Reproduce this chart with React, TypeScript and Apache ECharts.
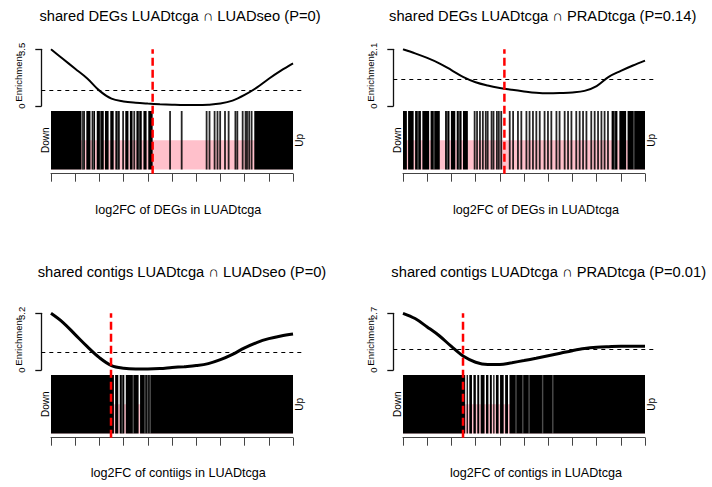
import React, { useEffect, useRef } from "react";
import * as echarts from "echarts";

type Span = [number, number];

// ---------- data ----------
const panelTitles = [
  "shared DEGs LUADtcga \u2229 LUADseo (P=0)",
  "shared DEGs LUADtcga \u2229 PRADtcga (P=0.14)",
  "shared contigs LUADtcga \u2229 LUADseo (P=0)",
  "shared contigs LUADtcga \u2229 PRADtcga (P=0.01)",
];
const axisTitles = [
  "log2FC of DEGs in LUADtcga",
  "log2FC of DEGs in LUADtcga",
  "log2FC of contiigs in LUADtcga",
  "log2FC of contigs in LUADtcga",
];
const stripLabels = ["Down", "Up"];
const enrichmentName = "Enrichment";
const enrichmentMax = [3.5, 2.1, 3.2, 2.7];
const expectedEnrichment = 1;
// rank position (0-100) where log2FC crosses zero
const zeroPosition = [42.0, 41.9, 24.8, 24.8];

// running enrichment (worm) sampled along the ranked log2FC
const rankSteps = [0, 5, 10, 15, 20, 25, 30, 35, 40, 45, 50, 55, 60, 65, 70, 75, 80, 85, 90, 95, 100];
const wormDegSeo = [3.5, 2.9, 2.3, 1.7, 0.95, 0.45, 0.28, 0.2, 0.15, 0.11, 0.08, 0.06, 0.06, 0.08, 0.15, 0.33, 0.68, 1.13, 1.68, 2.18, 2.63];
const wormDegPrad = [2.1, 1.95, 1.78, 1.58, 1.33, 1.07, 0.88, 0.76, 0.67, 0.6, 0.54, 0.49, 0.47, 0.48, 0.5, 0.56, 0.74, 1.08, 1.3, 1.5, 1.68];
const wormContigSeo = [3.2, 2.68, 2.0, 1.32, 0.7, 0.25, 0.1, 0.06, 0.06, 0.08, 0.14, 0.19, 0.25, 0.36, 0.58, 0.88, 1.25, 1.55, 1.77, 1.92, 2.03];
const wormContigPrad = [2.7, 2.45, 2.05, 1.63, 1.12, 0.65, 0.37, 0.26, 0.26, 0.35, 0.45, 0.56, 0.68, 0.8, 0.92, 1.02, 1.08, 1.11, 1.13, 1.13, 1.13];

// barcode: runs of densely packed genes and isolated genes (rank positions 0-100)
const denseDegSeo: Span[] = [
  [0, 12.4], [12.6, 14.0], [14.6, 16.3], [16.8, 18.2], [18.9, 21.8], [22.3, 23.8], [24.5, 25.9],
  [26.6, 28.4], [30.7, 32.0], [32.6, 33.7], [35.3, 37.5], [38.2, 39.5], [40.2, 42.0], [84.0, 100],
];
const singleDegSeo = [29.8, 34.4, 49.2, 54.0, 64.3, 65.5, 67.6, 68.8, 69.9, 71.9, 73.4, 76.2, 77.0, 79.2, 80.4, 81.0, 81.9, 82.9];
const sparseDegSeo = [13.2, 17.5, 20.4, 27.5, 36.4];

const denseDegPrad: Span[] = [
  [0, 1.6], [2.1, 4.4], [5.0, 7.4], [8.0, 10.8], [11.4, 15.2], [17.4, 19.2], [19.8, 21.6],
  [22.2, 24.2], [24.8, 26.8], [86.2, 88.6], [89.4, 92.2], [92.8, 100],
];
const singleDegPrad = [
  29.6, 30.6, 31.8, 33.0, 34.2, 35.0, 36.6, 37.4, 38.8, 39.6, 40.6, 44.1, 45.5, 47.5, 48.9, 51.0,
  52.3, 53.7, 55.1, 56.5, 58.5, 59.9, 61.3, 63.4, 64.7, 66.8, 68.2, 69.6, 71.6, 73.0, 74.4, 75.8,
  77.8, 79.2, 80.6, 82.0, 83.3, 84.7,
];
const sparseDegPrad = [6.2, 12.8, 18.3, 23.2, 87.4, 95.4];

const denseContigSeo: Span[] = [[0, 26.0], [26.5, 27.8], [28.4, 30.3], [30.9, 36.2], [36.8, 100]];
const singleContigSeo: number[] = [];
const sparseContigSeo = [29.4, 34.0, 38.8, 39.9, 41.0];

const denseContigPrad: Span[] = [
  [0, 25.7], [26.3, 26.8], [27.4, 28.5], [29.1, 30.1], [30.7, 31.5], [32.1, 33.7], [34.3, 35.3],
  [35.9, 36.7], [37.3, 37.8], [38.4, 39.5], [40.1, 41.6], [42.2, 43.4], [44.0, 100],
];
const singleContigPrad: number[] = [];
const sparseContigPrad = [46.7, 49.5, 52.1, 57.7, 61.9];

const panels = [
  { worm: wormDegSeo, dense: denseDegSeo, single: singleDegSeo, sparse: sparseDegSeo, thick: false },
  { worm: wormDegPrad, dense: denseDegPrad, single: singleDegPrad, sparse: sparseDegPrad, thick: false },
  { worm: wormContigSeo, dense: denseContigSeo, single: singleContigSeo, sparse: sparseContigSeo, thick: true },
  { worm: wormContigPrad, dense: denseContigPrad, single: singleContigPrad, sparse: sparseContigPrad, thick: true },
];

// ---------- layout ----------
const FONT = "'Liberation Sans', Arial, Helvetica, sans-serif";
const STRIP_W = 242;
const PAD = 9.7; // R-style 4% extension of the enrichment plot region
const ENRICH_H = 56.7;
const STRIP_H = 58.5;
const AXIS_OFFSET = 4.2;
const colX = [51, 403];
const rowY = [
  { title: 16, enrich: 49.3, strip: 111, xlab: 210 },
  { title: 272, enrich: 313.3, strip: 375, xlab: 473 },
];
const titleCX = [180, 542.7, 182, 548.7];
const xlabCX = [178.3, 536, 178.3, 536];

function buildOption() {
  const grid: any[] = [];
  const xAxis: any[] = [];
  const yAxis: any[] = [];
  const series: any[] = [];
  const graphic: any[] = [];

  panels.forEach((p, i) => {
    const col = i % 2;
    const row = Math.floor(i / 2);
    const x0 = colX[col];
    const r = rowY[row];
    const g0 = grid.length;
    const xa = xAxis.length;
    const ya = yAxis.length;

    grid.push({ left: x0 - PAD, top: r.enrich, width: STRIP_W + 2 * PAD, height: ENRICH_H });
    grid.push({ left: x0, top: r.strip, width: STRIP_W, height: STRIP_H });
    grid.push({ left: x0, top: r.enrich, width: STRIP_W, height: r.strip + STRIP_H + AXIS_OFFSET - r.enrich });

    xAxis.push({ gridIndex: g0, type: "value", min: -4, max: 104, show: false });
    xAxis.push({
      gridIndex: g0 + 1, type: "value", min: 0, max: 100, interval: 10, position: "bottom",
      offset: AXIS_OFFSET,
      axisLine: { show: true, onZero: false, lineStyle: { color: "#444", width: 1 } },
      axisTick: { show: true, length: 8, lineStyle: { color: "#444", width: 1 } },
      axisLabel: { show: false }, splitLine: { show: false },
    });
    xAxis.push({ gridIndex: g0 + 2, type: "value", min: 0, max: 100, show: false });

    const nameStyle = { fontSize: 9.5, color: "#000", fontFamily: FONT };
    yAxis.push({
      gridIndex: g0, type: "value", min: 0, max: enrichmentMax[i], interval: enrichmentMax[i],
      axisLine: { show: true, onZero: false, lineStyle: { color: "#111", width: 1.3 } },
      axisTick: { show: true, length: 6, lineStyle: { color: "#111", width: 1.3 } },
      axisLabel: { rotate: 90, margin: 15, fontSize: 9.5, color: "#000", fontFamily: FONT },
      splitLine: { show: false },
      name: enrichmentName, nameLocation: "middle", nameRotate: 90, nameGap: 18, nameMoveOverlap: false,
      nameTextStyle: nameStyle,
    });
    const stripName = { fontSize: 10, color: "#000", fontFamily: FONT };
    yAxis.push({
      gridIndex: g0 + 1, type: "value", min: 0, max: 2, position: "left",
      axisLine: { show: false }, axisTick: { show: false }, axisLabel: { show: false }, splitLine: { show: false },
      name: stripLabels[0], nameLocation: "middle", nameRotate: 90, nameGap: 1, nameMoveOverlap: false,
      nameTextStyle: stripName,
    });
    yAxis.push({
      gridIndex: g0 + 1, type: "value", min: 0, max: 2, position: "right",
      axisLine: { show: false }, axisTick: { show: false }, axisLabel: { show: false }, splitLine: { show: false },
      name: stripLabels[1], nameLocation: "middle", nameRotate: 90, nameGap: 1, nameMoveOverlap: false,
      nameTextStyle: stripName,
    });
    yAxis.push({ gridIndex: g0 + 2, type: "value", min: 0, max: 1, show: false });

    // enrichment worm with the expected level
    series.push({
      type: "line", xAxisIndex: xa, yAxisIndex: ya, silent: true,
      data: rankSteps.map((x, k) => [x, p.worm[k]]),
      smooth: 0.35, showSymbol: false, z: 5,
      lineStyle: { color: "#000", width: p.thick ? 3 : 2 },
      markLine: {
        silent: true, symbol: ["none", "none"], label: { show: false },
        lineStyle: { color: "#000", type: [4, 4], width: 1 },
        data: [{ yAxis: expectedEnrichment }],
      },
    });

    // lower-half shading of the barcode strip
    series.push({
      type: "custom", xAxisIndex: xa + 1, yAxisIndex: ya + 1, silent: true, z: 1,
      data: [[0, 100]],
      renderItem: (_: any, api: any) => {
        const a = api.coord([api.value(0), 1]);
        const b = api.coord([api.value(1), 0]);
        return { type: "rect", shape: { x: a[0], y: a[1], width: b[0] - a[0], height: b[1] - a[1] }, style: { fill: "#FFC0CB" } };
      },
    });

    // dense runs of genes
    series.push({
      type: "custom", xAxisIndex: xa + 1, yAxisIndex: ya + 1, silent: true, z: 2,
      data: p.dense,
      renderItem: (_: any, api: any) => {
        const a = api.coord([api.value(0), 2]);
        const b = api.coord([api.value(1), 0]);
        return { type: "rect", shape: { x: a[0], y: a[1], width: Math.max(b[0] - a[0], 1), height: b[1] - a[1] }, style: { fill: "#000" } };
      },
    });

    // isolated genes
    series.push({
      type: "custom", xAxisIndex: xa + 1, yAxisIndex: ya + 1, silent: true, z: 3,
      data: p.single.map((v) => [v, 0]),
      renderItem: (_: any, api: any) => {
        const a = api.coord([api.value(0), 2]);
        const b = api.coord([api.value(0), 0]);
        return { type: "rect", shape: { x: a[0] - 0.9, y: a[1], width: 1.8, height: b[1] - a[1] }, style: { fill: "#000", opacity: 0.85 } };
      },
    });

    // sparse stretches inside dense runs
    series.push({
      type: "custom", xAxisIndex: xa + 1, yAxisIndex: ya + 1, silent: true, z: 4,
      data: p.sparse.map((v) => [v, 0]),
      renderItem: (_: any, api: any) => {
        const a = api.coord([api.value(0), 2]);
        const b = api.coord([api.value(0), 0]);
        return { type: "rect", shape: { x: a[0] - 0.7, y: a[1], width: 1.4, height: b[1] - a[1] }, style: { fill: "#fff", opacity: 0.3 } };
      },
    });

    // zero log2FC cut
    series.push({
      type: "line", xAxisIndex: xa + 2, yAxisIndex: ya + 3, silent: true, z: 10,
      data: [[zeroPosition[i], 0], [zeroPosition[i], 1]],
      showSymbol: false, symbol: "none",
      lineStyle: { color: "#FF0000", width: 2.5, type: [8, 4] },
    });

    graphic.push({
      type: "text", x: titleCX[i], y: r.title,
      style: { text: panelTitles[i], fontSize: 14.7, fontFamily: FONT, fill: "#000", align: "center", verticalAlign: "middle" },
    });
    graphic.push({
      type: "text", x: xlabCX[i], y: r.xlab,
      style: { text: axisTitles[i], fontSize: 12.6, fontFamily: FONT, fill: "#000", align: "center", verticalAlign: "middle" },
    });
  });

  return { animation: false, backgroundColor: "#fff", grid, xAxis, yAxis, series, graphic };
}

export default function App() {
  const ref = useRef<HTMLDivElement>(null);
  useEffect(() => {
    if (!ref.current) return;
    const chart = echarts.init(ref.current, undefined, { renderer: "svg" });
    chart.setOption(buildOption() as any);
    return () => chart.dispose();
  }, []);
  return <div ref={ref} style={{ position: "absolute", left: 0, top: 0, width: 712, height: 487 }} />;
}
